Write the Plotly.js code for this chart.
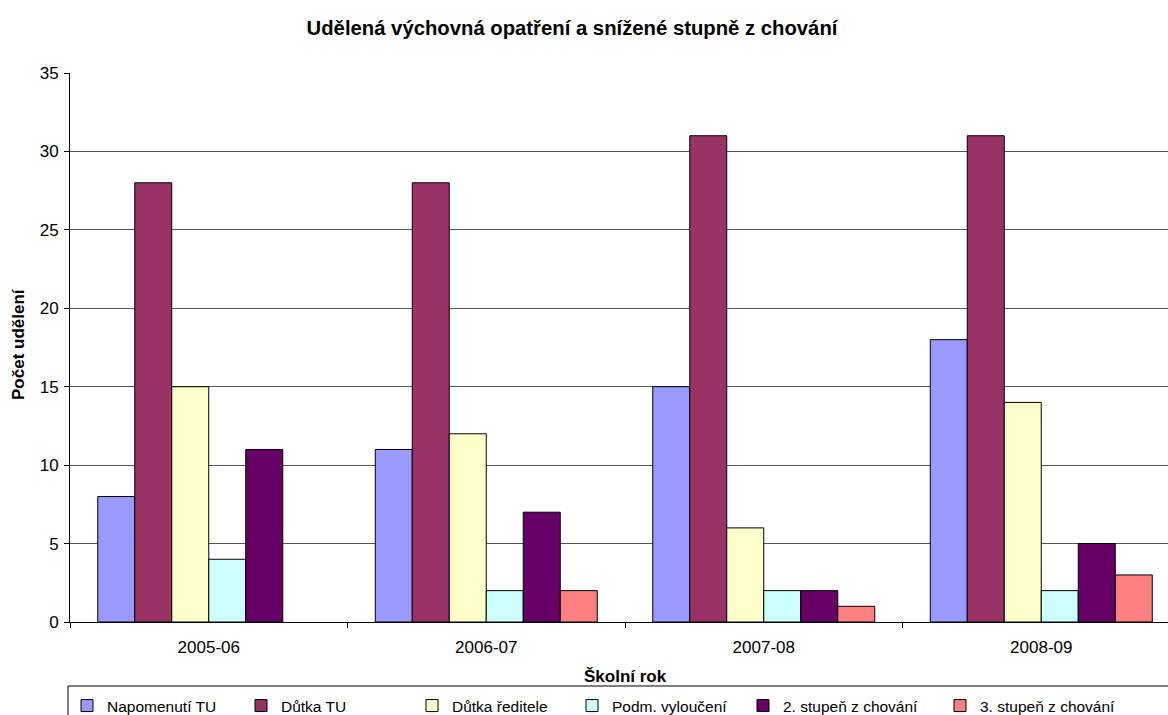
<!DOCTYPE html>
<html>
<head>
<meta charset="utf-8">
<script src="https://cdn.plot.ly/plotly-3.0.1.min.js"></script>
<style>html,body{margin:0;padding:0;background:#fff}#chart{width:1168px;height:715px}</style>
</head>
<body>
<div id="chart"></div>
<script>
const years = ["2005-06", "2006-07", "2007-08", "2008-09"];
const seriesNames = ["Napomenutí TU", "Důtka TU", "Důtka ředitele", "Podm. vyloučení", "2. stupeň z chování", "3. stupeň z chování"];
const napomenutiTU = [8, 11, 15, 18];
const dutkaTU = [28, 28, 31, 31];
const dutkaReditele = [15, 12, 6, 14];
const podmVylouceni = [4, 2, 2, 2];
const stupen2 = [11, 7, 2, 5];
const stupen3 = [null, 2, 1, 3];
const yTicks = [0, 5, 10, 15, 20, 25, 30, 35];

const seriesValues = [napomenutiTU, dutkaTU, dutkaReditele, podmVylouceni, stupen2, stupen3];
const colors = ["#9999FF", "#993366", "#FFFFCC", "#CCFFFF", "#660066", "#FF8080"];
const legendTextX = [107, 281, 452, 612, 783, 980];

const W = 1168, H = 715;
const mL = 70, mR = 0, mT = 73, mB = 93;
const plotW = W - mL - mR, plotH = H - mT - mB;
const catPx = 277.5;
const font = "Liberation Sans, Arial, sans-serif";

const traces = seriesNames.map((n, i) => ({
  type: "bar", name: n, x: years, y: seriesValues[i],
  marker: {color: colors[i], line: {color: "#000", width: 1}},
  legend: i === 0 ? "legend" : "legend" + (i + 1),
  hoverinfo: "skip"
}));

const layout = {
  width: W, height: H,
  margin: {l: mL, r: mR, t: mT, b: mB, pad: 0, autoexpand: false},
  paper_bgcolor: "#fff", plot_bgcolor: "#fff",
  font: {family: font, size: 17, color: "#000"},
  title: {text: "<b>Udělená výchovná opatření a snížené stupně z chování</b>",
          font: {family: font, size: 20.3, color: "#000"},
          xref: "container", x: 572 / W, xanchor: "center",
          yref: "container", y: 1 - 28 / H, yanchor: "middle"},
  barmode: "group", bargap: 0.2, bargroupgap: 0,
  xaxis: {type: "category", range: [-0.5, -0.5 + plotW / catPx],
          tickson: "boundaries", ticks: "outside", ticklen: 5, tickcolor: "#000",
          ticklabelstandoff: 10,
          showline: true, linecolor: "#000", linewidth: 1, showgrid: false,
          tickfont: {family: font, size: 17, color: "#000"}, fixedrange: true},
  yaxis: {range: [0, 35], tickvals: yTicks, ticks: "outside", ticklen: 5, tickcolor: "#000",
          ticklabelstandoff: 2,
          showline: true, linecolor: "#000", linewidth: 1,
          showgrid: true, gridcolor: "#555", gridwidth: 1, zeroline: false,
          tickfont: {family: font, size: 17, color: "#000"}, fixedrange: true},
  annotations: [
    {text: "<b>Školní rok</b>", xref: "x", x: 1.5, yref: "paper", y: -(676 - 622) / plotH,
     yanchor: "middle", showarrow: false, font: {family: font, size: 17, color: "#000"}},
    {text: "<b>Počet udělení</b>", xref: "paper", x: -(70 - 18) / plotW, xanchor: "center",
     yref: "paper", y: (622 - 344) / plotH, yanchor: "middle", textangle: -90, showarrow: false,
     font: {family: font, size: 17, color: "#000"}}
  ],
  shapes: [
    {type: "rect", xref: "paper", yref: "paper",
     x0: -2 / plotW, x1: (W + 20 - mL) / plotW,
     y0: -(686 - 622) / plotH, y1: -(740 - 622) / plotH,
     line: {color: "#000", width: 1}, fillcolor: "rgba(0,0,0,0)", layer: "above"}
  ],
  showlegend: true
};

seriesNames.forEach((n, i) => {
  const key = i === 0 ? "legend" : "legend" + (i + 1);
  layout[key] = {
    orientation: "h", xref: "container", yref: "container",
    x: (legendTextX[i] - 40) / W, xanchor: "left",
    y: 1 - 706 / H, yanchor: "middle",
    bgcolor: "rgba(0,0,0,0)", borderwidth: 0,
    font: {family: font, size: 15.5, color: "#000"}
  };
});

Plotly.newPlot("chart", traces, layout, {staticPlot: true, displayModeBar: false});
</script>
</body>
</html>
